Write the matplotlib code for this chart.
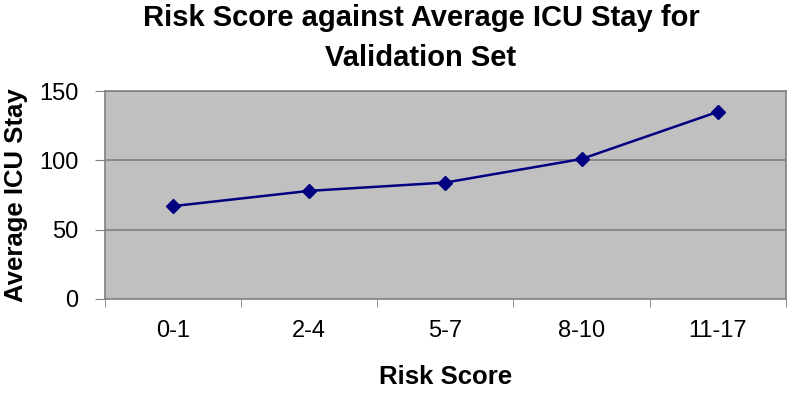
import numpy as np
import matplotlib
matplotlib.use("Agg")
import matplotlib.pyplot as plt

plt.rcParams['font.family'] = ['Liberation Sans', 'DejaVu Sans']

categories = ['0-1', '2-4', '5-7', '8-10', '11-17']
icu_stay = [67, 78, 84, 101, 135]
y_ticks = [0, 50, 100, 150]

fig = plt.figure(figsize=(7.87, 3.96), dpi=100)
ax = fig.add_axes([0.1334, 0.245, 0.865, 0.525])
ax.set_facecolor('#c0c0c0')

x = np.arange(len(categories))
ax.plot(x, icu_stay, color='#000080', linewidth=1.8, marker='D', markersize=7,
        zorder=3)

ax.set_xlim(-0.5, len(categories) - 0.5)
ax.set_ylim(0, 150)
ax.set_yticks(y_ticks)
for v in y_ticks[1:]:
    ax.axhline(v, color='#808080', linewidth=1.2, zorder=1)

ax.set_xticks(x)
ax.set_xticklabels(categories)
ax.set_xticks(np.arange(len(categories) + 1) - 0.5, minor=True)
ax.tick_params(axis='x', which='major', length=0, pad=15, labelsize=17)
ax.tick_params(axis='x', which='minor', length=6, color='#808080', direction='out')
ax.tick_params(axis='y', length=7, color='#808080', pad=12, labelsize=17)

for s in ax.spines.values():
    s.set_color('#808080')
    s.set_linewidth(1.2)

ax.set_xlabel('Risk Score', fontsize=18.5, fontweight='bold', labelpad=17)
ax.set_ylabel('Average ICU Stay', fontsize=18.5, fontweight='bold', labelpad=8)
fig.suptitle('Risk Score against Average ICU Stay for\nValidation Set',
             fontsize=21, fontweight='bold', x=0.535, y=0.99, linespacing=1.55)

fig.savefig('out.png', dpi=100)
